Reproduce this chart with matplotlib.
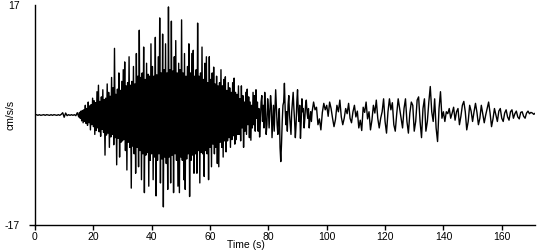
import numpy as np
import matplotlib.pyplot as plt

# ground acceleration (cm/s/s)
# quiet part before the P arrival, every 0.5 s from 0 s
pre_dt = 0.5
pre = [
    0.00, 0.05, -0.05, 0.05, -0.05, 0.00, 0.05, -0.05, 0.05, 0.00,      # 0-5 s
    -0.05, 0.05, -0.05, 0.05, 0.00, -0.05, 0.05, -0.05, 0.10, 0.35,     # 5-10
    -0.35, 0.30, -0.10, 0.05, -0.05, 0.05, -0.05, 0.05, -0.10, 0.35,    # 10-15
]

# strong shaking, every 0.25 s from 15 s to 95 s
strong_t0 = 15.0
strong_dt = 0.25
strong = [
    -0.3, 0.4, -0.5, 0.6, -0.9, 0.7, -1.2, 0.8, -1.0, 1.5,
    -1.3, 1.0, -1.6, 2.0, -1.2, 1.4, -2.3, 1.6, -1.5, 2.6,              # 15-20 s
    -1.8, 2.2, -3.0, 1.9, -2.4, 3.6, -2.0, 4.6, -2.6, 2.1,
    -3.3, 2.8, -2.2, 3.9, -2.7, 2.4, -6.2, 2.6, -3.1, 4.8,              # 20-25
    -2.8, 3.5, -5.0, 2.9, -3.4, 5.8, -3.0, 4.2, -4.6, 10.3,
    -3.5, 3.2, -7.7, 4.0, -3.6, 6.5, -6.5, 3.8, -4.2, 5.2,              # 25-30
    -4.0, 7.0, -3.8, 8.2, -5.5, 4.5, -8.5, 5.0, -4.2, 9.0,
    -5.0, 4.6, -11.3, 5.2, -4.8, 7.5, -6.0, 4.8, -9.0, 9.5,             # 30-35
    -5.0, 6.0, -8.0, 13.1, -5.5, 5.8, -10.0, 6.5, -6.0, 10.5,
    -12.0, 5.5, -6.2, 8.0, -5.8, 6.3, -11.0, 6.0, -7.0, 11.0,           # 35-40
    -6.0, 7.5, -10.0, 6.0, -6.5, 12.0, -12.5, 6.2, -7.0, 9.0,
    -6.0, 15.0, -10.5, 6.5, -6.8, 12.5, -14.2, 7.0, -6.5, 11.0,         # 40-45
    -7.5, 6.5, -11.5, 16.7, -6.5, 7.0, -10.5, 14.5, -6.2, 6.8,
    -12.0, 9.0, -6.0, 11.5, -7.0, 6.5, -11.0, 8.0, -12.0, 7.0,          # 45-50
    -6.5, 14.7, -7.0, 6.5, -10.0, 9.5, -11.5, 6.0, -6.8, 7.5,
    -6.0, 11.0, -12.6, 6.5, -7.0, 9.5, -6.2, 10.0, -9.0, 6.0,           # 50-55
    -6.0, 7.0, -9.0, 14.2, -5.5, 6.0, -10.5, 6.5, -5.8, 10.5,
    -6.0, 5.5, -9.5, 8.0, -5.5, 9.0, -6.0, 5.0, -10.0, 9.0,             # 55-60
    -5.0, 5.5, -8.0, 6.5, -4.5, 7.4, -6.0, 4.8, -5.0, 6.0,
    -7.5, 4.5, -8.0, 5.0, -4.2, 7.0, -5.0, 4.5, -6.5, 5.5,              # 60-65
    -4.0, 5.9, -5.7, 3.8, -4.0, 5.0, -3.5, 4.2, -5.0, 3.5,
    -3.8, 5.0, -3.2, 5.7, -4.5, 3.5, -3.8, 3.2, -3.0, 4.5,              # 65-70
    -3.0, 2.5, -4.0, 4.5, -2.0, 3.0, -5.0, 2.0, -2.5, 3.5,
    -3.0, 4.0, -1.5, 2.8, -3.5, 2.0, -3.9, 1.5, -2.0, 3.5,              # 70-75
    -1.5, 3.0, -2.5, 3.9, -0.5, 2.0, -2.5, 1.0, -3.4, -1.0,
    2.0, 3.0, -1.0, 1.5, -2.0, 3.5, 0.5, -3.0, -1.5, 2.5,               # 75-80
    1.0, -2.0, 0.5, 3.0, 1.5, -3.5, -1.0, 1.5, -2.5, 0.5,
    3.9, 1.0, -1.5, -3.0, -0.5, 1.0, -5.0, -7.2, -4.5, -1.0,            # 80-85
    1.5, 2.0, 4.9, 1.0, -1.5, 0.5, -2.5, 1.5, 3.0, 0.0,
    -1.5, -3.0, 0.5, 2.0, 3.5, 1.0, -1.0, -3.5, -1.5, 2.0,              # 85-90
    3.9, 0.5, -1.0, 1.5, -3.6, -1.0, 2.5, 0.5, 1.0, -2.0,
    -0.5, 1.5, 2.3, 0.5, -0.5, 1.0, -2.0, -0.5, 0.5, -1.0,              # 90-95
]

# coda, every 0.5 s from 95 s
coda_t0 = 95.0
coda_dt = 0.5
coda = [
    0.5, 2.0, 0.8, 1.2, -1.5, -0.6, -2.3, 0.4, 1.8, 0.8,                # 95-100
    1.5, -0.2, 2.0, 1.0, -0.5, -1.8, -0.7, 1.5, 0.5, 2.3,               # 100-105
    -0.3, -1.5, -0.5, 1.0, 0.2, 1.8, -0.5, -1.2, 0.5, 1.5,              # 105-110
    -0.3, 0.6, -2.0, -0.8, -2.4, 1.2, 0.4, 2.0, -0.6, 0.5,              # 110-115
    -2.3, -0.8, 1.5, 0.3, 2.3, -0.5, -2.0, -0.5, 0.5, 2.5,              # 115-120
    -1.0, -2.8, 0.5, 2.5, 0.8, 1.9, -1.5, -2.5, 0.2, 2.5,               # 120-125
    1.0, -0.5, -2.0, 1.0, 2.5, -1.0, -2.8, 0.3, 2.0, 1.5,               # 125-130
    -2.5, -1.0, 2.3, 2.8, -1.0, -3.5, 1.0, 2.5, -2.5, -1.0,             # 130-135
    2.0, 4.4, 0.5, -1.0, 2.5, -2.0, -4.1, 1.0, 3.6, -0.5,               # 135-140
    0.5, -1.0, 0.5, 0.2, 1.0, -0.5, 0.3, 1.2, -0.8, 0.5,                # 140-145
    1.0, -1.5, -0.2, 1.5, 2.1, 0.5, -2.3, -1.0, 1.5, 0.6,               # 145-150
    -1.0, 0.5, 1.8, 0.4, -1.5, -0.5, 1.5, 0.2, -1.2, 0.0,               # 150-155
    1.0, 2.0, 0.3, -1.8, -0.6, 1.0, 0.0, -1.0, 0.6, 1.0,                # 155-160
    -0.5, -1.0, 0.3, 0.8, -0.3, -0.8, 0.5, 0.8, -0.5, 0.2,              # 160-165
    0.6, -0.3, -0.6, 0.4, 0.5, -0.2, -0.5, 0.3, 0.6, 0.2,               # 165-170
    0.4, 0.3, 0.1, 0.3,
]

time = np.concatenate([
    np.arange(len(pre)) * pre_dt,
    strong_t0 + np.arange(len(strong)) * strong_dt,
    coda_t0 + np.arange(len(coda)) * coda_dt,
])
accel = np.concatenate([pre, strong, coda])

x_ticks = [0, 20, 40, 60, 80, 100, 120, 140, 160]
y_ticks = [-17, 17]

plt.rcParams['font.family'] = ['Liberation Sans', 'DejaVu Sans']
plt.rcParams['font.size'] = 7.5

fig = plt.figure(figsize=(5.5, 2.5), dpi=100)
ax = fig.add_axes([35 / 550, 25 / 250, 500 / 550, 220 / 250])

ax.plot(time, accel, color='black', linewidth=1.0)

ax.set_xlim(0, 171.4)
ax.set_ylim(-17, 17)
ax.set_xticks(x_ticks)
ax.set_yticks(y_ticks)
ax.set_yticklabels(['-17', '17'])
ax.yaxis.get_major_ticks()[1].tick1line.set_visible(False)

for s in ['top', 'right']:
    ax.spines[s].set_visible(False)
for s in ['left', 'bottom']:
    ax.spines[s].set_linewidth(1.0)

ax.tick_params(axis='x', length=3.5, width=1.0, pad=1.5)
ax.tick_params(axis='y', length=4, width=1.0, pad=7)

ax.set_xlabel('Time (s)')
ax.xaxis.set_label_coords(0.422, -0.07)
ax.set_ylabel('cm/s/s')
ax.yaxis.set_label_coords(-0.038, 0.5)

fig.savefig('out.png', dpi=100)
